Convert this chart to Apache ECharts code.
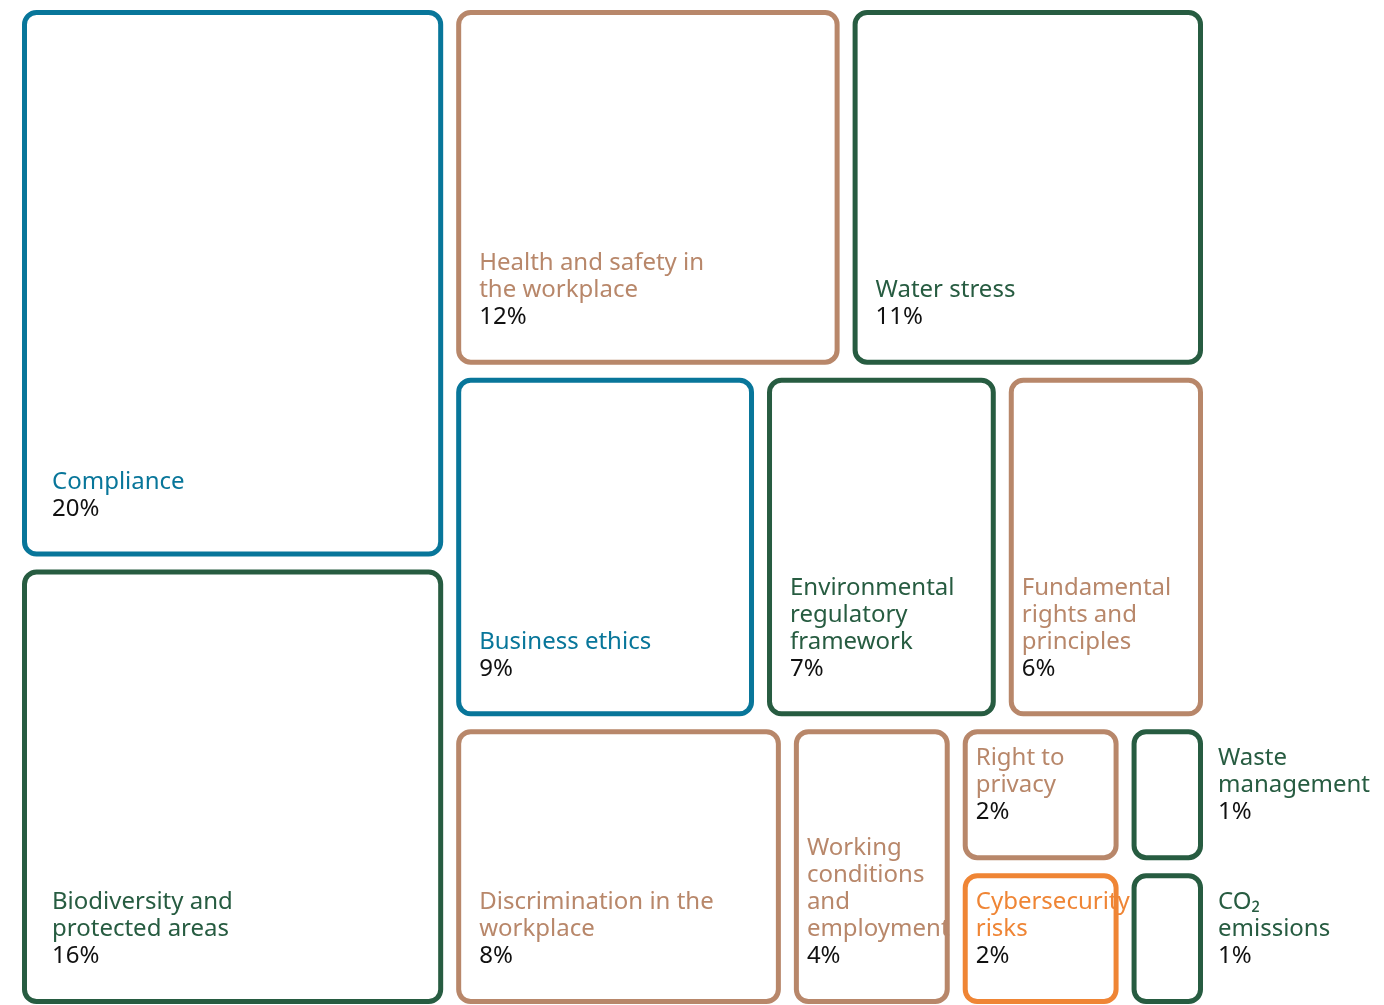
<!DOCTYPE html>
<html>
<head>
<meta charset="utf-8">
<title>Material topics</title>
<script src="https://cdn.jsdelivr.net/npm/echarts@6/dist/echarts.min.js"></script>
<style>
    html, body { margin: 0; padding: 0; background: #fff; }
    #topics { width: 1384px; height: 1005px; }
</style>
</head>
<body>
<div id="topics"></div>
<script>
// topics, in the order the boxes are laid out
const topics = [
    'Compliance',
    'Biodiversity and\nprotected areas',
    'Health and safety in\nthe workplace',
    'Water stress',
    'Business ethics',
    'Environmental\nregulatory\nframework',
    'Fundamental\nrights and\nprinciples',
    'Discrimination in the\nworkplace',
    'Working\nconditions\nand\nemployment',
    'Right to\nprivacy',
    'Cybersecurity\nrisks',
    'Waste\nmanagement',
    'CO₂\nemissions'
];
// share of each topic, %
const shares = [20, 16, 12, 11, 9, 7, 6, 8, 4, 2, 2, 1, 1];
// pillar of each topic
const pillars = ['gov', 'env', 'soc', 'env', 'gov', 'env', 'soc', 'soc', 'soc', 'soc', 'cyber', 'env', 'env'];

const pillarColors = {
    gov: '#08769a',
    env: '#275c41',
    soc: '#b8876a',
    cyber: '#ef8535'
};

// how the boxes are grouped: 'h' = side by side, 'v' = stacked
const layoutTree = ['h',
    ['v', 0, 1],
    ['v',
        ['h', 2, 3],
        ['h', 4, 5, 6],
        ['h', 7, 8, ['v', 9, 10], ['v', 11, 12]]
    ]
];

function sumOf(node) {
    if (typeof node === 'number') return shares[node];
    return node.slice(1).reduce(function (s, c) { return s + sumOf(c); }, 0);
}

// slice and dice, in axis units (0..1 on both axes)
function place(node, x0, y0, x1, y1, out) {
    if (typeof node === 'number') {
        out.push([x0, y0, x1, y1, node]);
        return out;
    }
    const total = sumOf(node);
    let acc = 0;
    node.slice(1).forEach(function (k) {
        const a = acc / total;
        acc += sumOf(k);
        const b = acc / total;
        if (node[0] === 'h') {
            place(k, x0 + (x1 - x0) * a, y0, x0 + (x1 - x0) * b, y1, out);
        } else {
            place(k, x0, y0 + (y1 - y0) * a, x1, y0 + (y1 - y0) * b, out);
        }
    });
    return out;
}

const cells = place(layoutTree, 0, 0, 1, 1, []);

const GAP = 13;
const LINE = 5;

function renderBox(params, api) {
    const p0 = api.coord([api.value(0), api.value(1)]);
    const p1 = api.coord([api.value(2), api.value(3)]);
    const i = api.value(4);
    const x = p0[0], y = p0[1];
    const w = p1[0] - p0[0] - GAP;
    const h = p1[1] - p0[1] - GAP;
    const color = pillarColors[pillars[i]];

    // label sits bottom left, or right of the box when the box is too narrow
    let tx;
    if (w < 100) tx = x + w + 15;
    else if (w >= 400) tx = x + 30;
    else if (w >= 210) tx = x + 23;
    else tx = x + 13;

    return {
        type: 'group',
        children: [{
            type: 'rect',
            shape: { x: x + LINE / 2, y: y + LINE / 2, width: w - LINE, height: h - LINE, r: 12 },
            style: { fill: '#fff', stroke: color, lineWidth: LINE }
        }, {
            type: 'text',
            x: tx,
            y: y + h - 34,
            style: {
                text: '{n|' + topics[i] + '}\n{v|' + shares[i] + '%}',
                align: 'left',
                verticalAlign: 'bottom',
                rich: {
                    n: { fill: color, fontSize: 24, lineHeight: 27, fontFamily: 'Noto Sans' },
                    v: { fill: '#111', fontSize: 24, lineHeight: 27, fontFamily: 'Noto Sans' }
                }
            }
        }]
    };
}

function setOption(ident, opt) {
    let myChart = echarts.init(document.getElementById(ident));
    myChart.setOption(opt);
}

setOption('topics', {
    animation: false,
    backgroundColor: '#fff',
    grid: { left: 22, top: 10, width: 1194, height: 1007, outerBoundsMode: 'none', containLabel: false },
    xAxis: { type: 'value', min: 0, max: 1, show: false },
    yAxis: { type: 'value', min: 0, max: 1, inverse: true, show: false },
    series: [{
        type: 'custom',
        renderItem: renderBox,
        data: cells,
        clip: false
    }]
});
</script>
</body>
</html>
